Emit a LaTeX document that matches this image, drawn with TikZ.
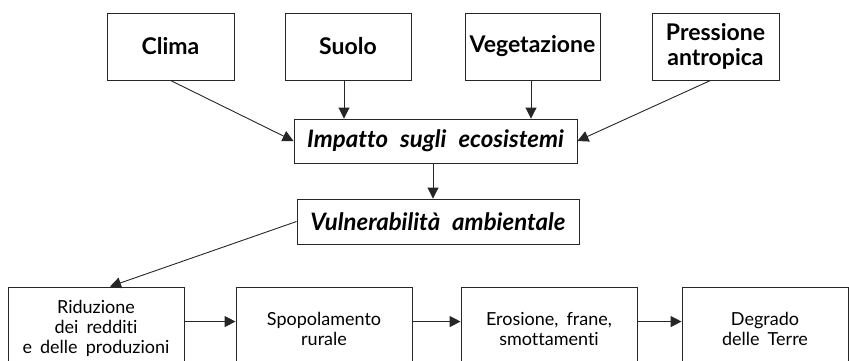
\documentclass[tikz,border=0pt]{standalone}
\usepackage{fontspec}
\setmainfont{Lato}[Ligatures={NoCommon}]
\usetikzlibrary{arrows.meta}
\tikzset{
  topbox/.style={draw=black!85, line width=0.9pt, minimum height=67pt, inner sep=2pt, align=center,
    font=\bfseries\fontsize{23}{25}\selectfont},
  midbox/.style={draw=black!85, line width=0.9pt, minimum height=44pt, inner sep=2pt, align=center,
    font=\bfseries\itshape\fontsize{24}{26}\selectfont, execute at begin node={\spaceskip=0.5em\relax}},
  botbox/.style={draw=black!85, line width=0.9pt, minimum width=176pt, minimum height=83pt, inner sep=2pt, align=center,
    font=\fontsize{18}{20}\selectfont, execute at begin node={\spaceskip=0.45em\relax}},
  arr/.style={draw=black!85, line width=0.9pt, -{Triangle[length=11pt,width=11pt]}}
}
\begin{document}
\begin{tikzpicture}[x=1pt,y=-1pt]
\useasboundingbox (0,0) rectangle (849,360);
\clip (0,0) rectangle (849,360);
\node[topbox, minimum width=127pt] (clima) at (170.5,46.5) {Clima};
\node[topbox, minimum width=126pt] (suolo) at (348,46.5) {Suolo};
\node[topbox, minimum width=135pt] (veg) at (532.5,46.5) {Vegetazione};
\node[topbox, minimum width=127pt] (press) at (715.5,46.5) {Pressione\\antropica};
\node[midbox, minimum width=283pt] (imp) at (435.5,141) {Impatto sugli ecosistemi};
\node[midbox, minimum width=282pt, minimum height=45pt] (vul) at (438,221.5) {Vulnerabilità ambientale};
\node[botbox] (rid) at (96,328.5) {Riduzione\\dei redditi\\e delle produzioni};
\node[botbox] (spop) at (324,328.5) {Spopolamento\\rurale};
\node[botbox] (eros) at (549,328.5) {Erosione, frane,\\smottamenti};
\node[botbox, minimum width=166pt] (degr) at (765,328.5) {Degrado\\delle Terre};
\draw[arr] (clima.south) -- (imp.west);
\draw[arr] ([xshift=-4pt]suolo.south) -- ([xshift=-4pt]suolo.south |- imp.north);
\draw[arr] ([xshift=-1.5pt]veg.south) -- ([xshift=-1.5pt]veg.south |- imp.north);
\draw[arr] ([xshift=-5pt]press.south) -- (imp.east);
\draw[arr] ([xshift=-2.5pt]imp.south) -- ([xshift=-2.5pt]imp.south |- vul.north);
\draw[arr] (vul.west) -- ([xshift=14pt]rid.north);
\draw[arr] ([yshift=-35pt]rid.north east) -- ([yshift=-35pt]spop.north west);
\draw[arr] ([yshift=-35pt]spop.north east) -- ([yshift=-35pt]eros.north west);
\draw[arr] ([yshift=-35pt]eros.north east) -- ([yshift=-35pt]degr.north west);
\end{tikzpicture}
\end{document}
